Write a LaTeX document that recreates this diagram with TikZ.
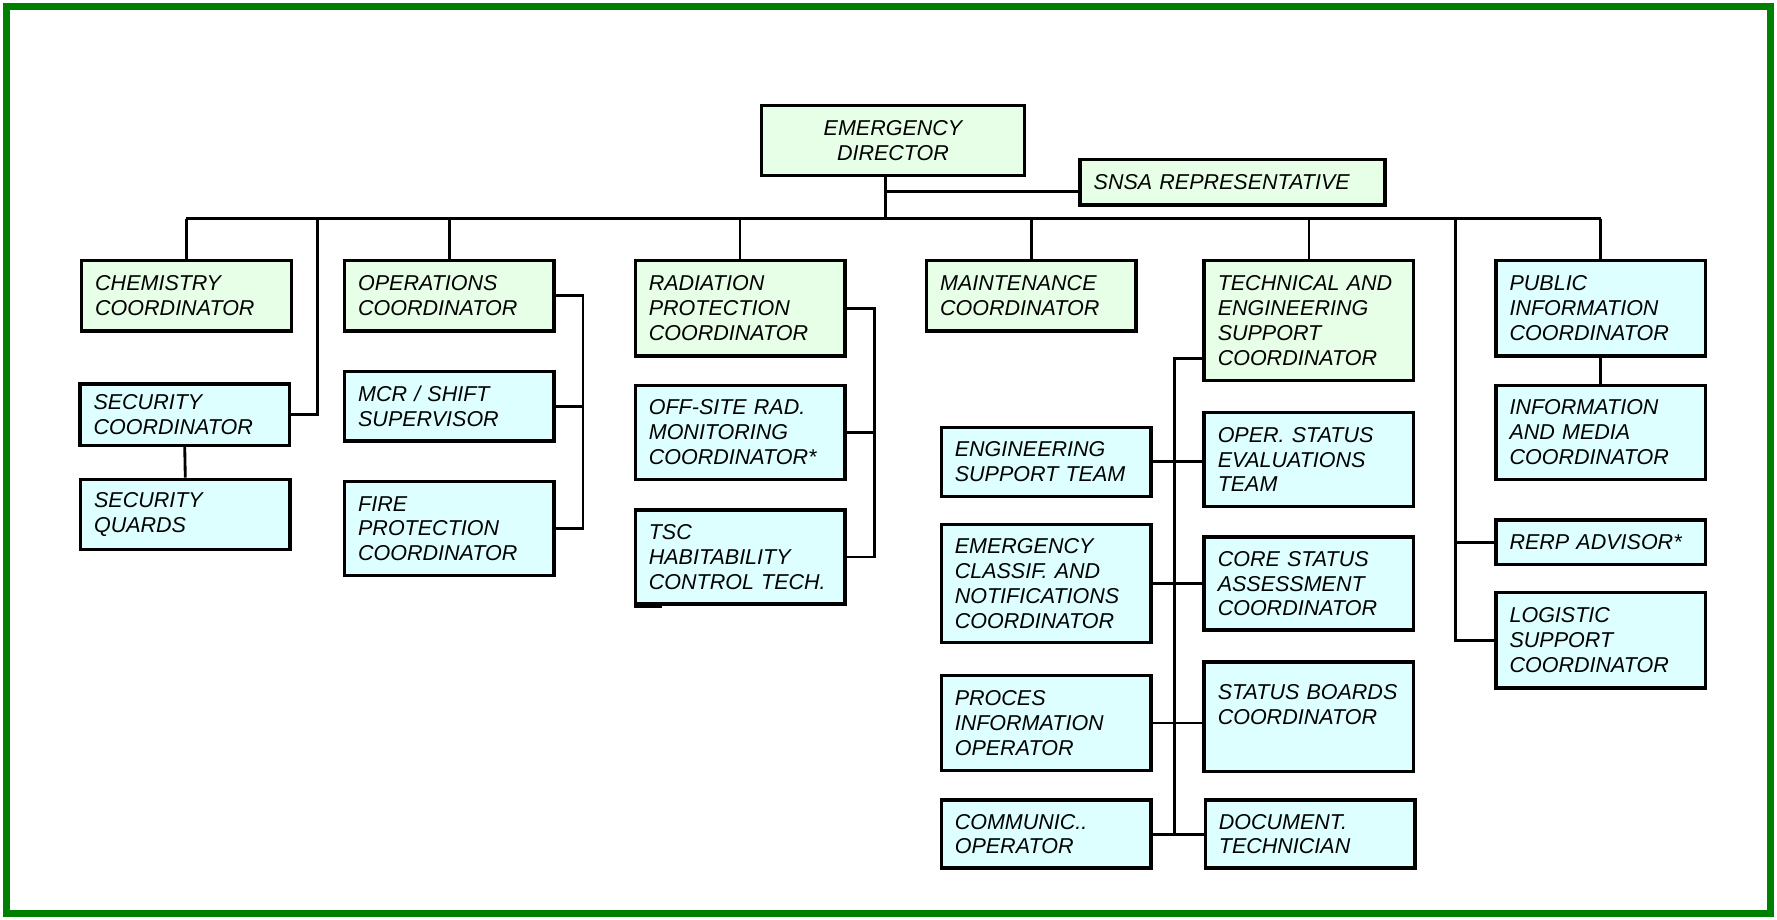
\documentclass[tikz,border=0pt]{standalone}
\usepackage{fontspec}
\setmainfont{Liberation Sans}
\usepackage{xcolor}
\definecolor{framegreen}{RGB}{0,128,0}
\definecolor{lightgreen}{RGB}{230,255,230}
\definecolor{lightcyan}{RGB}{221,255,255}

\begin{document}
\begin{tikzpicture}[
x=0.02cm, y=-0.02cm,
box/.style={draw,
rectangle,
line width=0.06cm,
text width=3.22cm,
inner xsep=0.24cm,
align=left,
font=\itshape\fontsize{10.8}{12.5}\selectfont},
gbox/.style={box, fill=lightgreen},
cbox/.style={box, fill=lightcyan},
link/.style={line width=0.05cm}
]

\useasboundingbox (0,0) rectangle (1568,811);
\draw[framegreen, line width=0.12cm] (6,6) rectangle (1562,806);

\node[gbox, text width=4.16cm, align=center, minimum height=1.24cm] (ed) at (788,124) {EMERGENCY\\DIRECTOR};
\node[gbox, text width=4.9cm, minimum height=0.8cm] (snsa) at (1087.5,161) {SNSA REPRESENTATIVE};

\node[gbox, minimum height=1.24cm] (chem) at (164.5,261) {CHEMISTRY\\COORDINATOR};
\node[gbox, minimum height=1.24cm] (ops) at (396.5,261) {OPERATIONS\\COORDINATOR};
\node[gbox, minimum height=1.68cm] (rp) at (653,272) {RADIATION\\PROTECTION\\COORDINATOR};
\node[gbox, minimum height=1.24cm] (maint) at (910,261) {MAINTENANCE\\COORDINATOR};
\node[gbox, minimum height=2.12cm] (tech) at (1155,283) {TECHNICAL AND\\ENGINEERING\\SUPPORT\\COORDINATOR};
\node[cbox, minimum height=1.68cm] (pub) at (1412.5,272) {PUBLIC\\INFORMATION\\COORDINATOR};

\node[cbox, minimum height=1.08cm] (sec) at (163,366) {SECURITY\\COORDINATOR};
\node[cbox, minimum height=1.24cm] (quards) at (163.5,454) {SECURITY\\QUARDS};

\node[cbox, minimum height=1.22cm] (mcr) at (396.5,358.5) {MCR / SHIFT\\SUPERVISOR};
\node[cbox, minimum height=1.66cm] (fire) at (396.5,466.5) {FIRE\\PROTECTION\\COORDINATOR};

\node[cbox, minimum height=1.66cm] (offsite) at (653,381.5) {OFF-SITE RAD.\\MONITORING\\COORDINATOR*};
\node[cbox, minimum height=1.66cm] (tsc) at (653,491.5) {TSC\\HABITABILITY\\CONTROL TECH.};

\node[cbox, minimum height=1.22cm] (est) at (923,407.5) {ENGINEERING\\SUPPORT TEAM};
\node[cbox, minimum height=2.08cm] (ecn) at (923,515) {EMERGENCY\\CLASSIF. AND\\NOTIFICATIONS\\COORDINATOR};
\node[cbox, minimum height=1.68cm] (pio) at (923,638) {PROCES\\INFORMATION\\OPERATOR};
\node[cbox, minimum height=1.2cm] (com) at (923,736) {COMMUNIC..\\OPERATOR};

\node[cbox, minimum height=1.66cm] (oper) at (1155,405.5) {OPER. STATUS\\EVALUATIONS\\TEAM};
\node[cbox, minimum height=1.64cm] (core) at (1155,515) {CORE STATUS\\ASSESSMENT\\COORDINATOR};
\node[cbox, minimum height=1.94cm] (sbc) at (1155,632.5) {STATUS BOARDS\\COORDINATOR\\ \mbox{}};
\node[cbox, minimum height=1.2cm] (doc) at (1156,736) {DOCUMENT.\\TECHNICIAN};

\node[cbox, minimum height=1.66cm] (info) at (1412.5,381.5) {INFORMATION\\AND MEDIA\\COORDINATOR};
\node[cbox, minimum height=0.78cm] (rerp) at (1412.5,478.5) {RERP ADVISOR*};
\node[cbox, minimum height=1.68cm] (log) at (1412.5,565) {LOGISTIC\\SUPPORT\\COORDINATOR};

\coordinate (bus) at (781,193);
\coordinate (secbus) at (280,193);
\coordinate (infobus) at (1284,193);

\draw[link] (ed.south -| bus) -- (bus);
\draw[link] ([yshift=-0.16cm]snsa.west) -- ([yshift=-0.16cm]snsa.west -| bus);
\draw[link] (chem.north |- bus) -- (pub.north |- bus);
\draw[link] (chem.north) -- (chem.north |- bus);
\draw[link] (ops.north) -- (ops.north |- bus);
\draw[link] (rp.north) -- (rp.north |- bus);
\draw[link] (maint.north) -- (maint.north |- bus);
\draw[link] (tech.north) -- (tech.north |- bus);
\draw[link] (pub.north) -- (pub.north |- bus);

\draw[link] (sec.east) -| (secbus);
\draw[link] (sec.south) -- (quards.north);

\draw[link] (ops.east) -- ++(24,0) |- (fire.east);
\draw[link] (mcr.east) -- ++(24,0);

\draw[link] (rp.east) -- ++(25,0) |- (tsc.east);
\draw[link] (offsite.east) -- ++(25,0);
\draw[line width=0.08cm] (tsc.south west) -- ++(25,0);

\draw[link] ([yshift=-0.66cm]tech.west) -- ++(-25,0) |- (doc.west);
\draw[link] (est.east) -- (est.east -| oper.west);
\draw[link] (ecn.east) -- (ecn.east -| core.west);
\draw[link] (pio.east) -- (pio.east -| sbc.west);
\draw[link] (com.east) -- (com.east -| doc.west);

\draw[link] (pub.south) -- (info.north);
\draw[link] (infobus) |- (log.west);
\draw[link] (rerp.west) -- (rerp.west -| infobus);

\end{tikzpicture}
\end{document}
